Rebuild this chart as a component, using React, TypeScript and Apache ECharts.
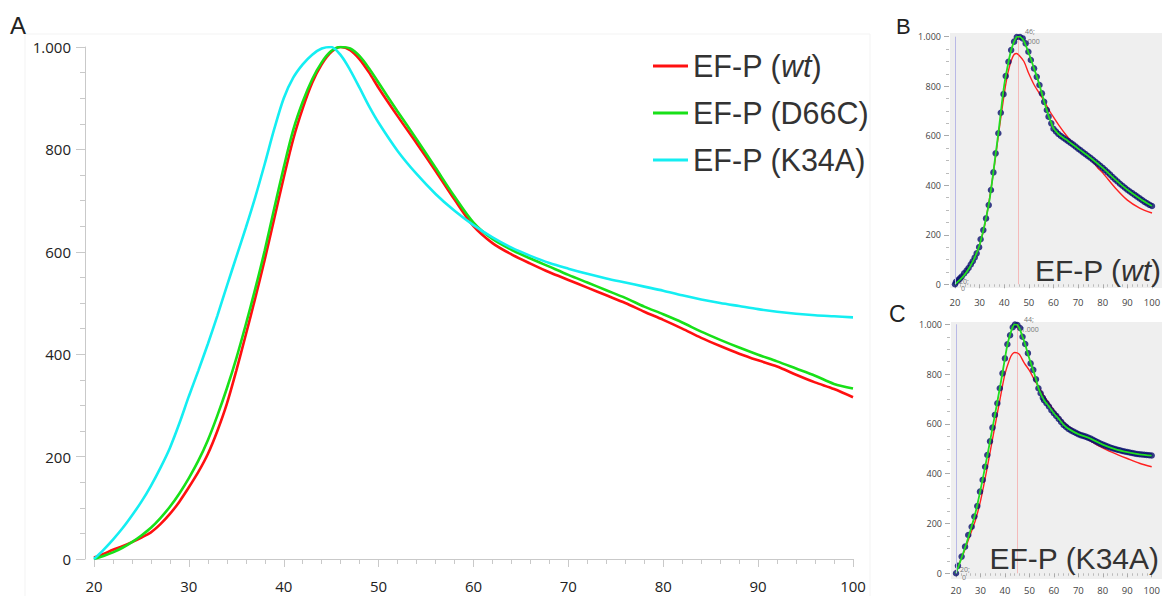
import React, { useEffect, useRef } from 'react';
import * as echarts from 'echarts';

// ---------- Panel A (main) ----------
const mainX = [20, 21, 22, 23, 24, 25, 26, 27, 28, 29, 30, 31, 32, 33, 34, 35, 36, 37, 38, 39, 40, 41, 42, 43, 44, 45, 46, 47, 48, 49, 50,
  52, 54, 56, 58, 60, 62, 64, 66, 68, 70, 72, 74, 76, 78, 80, 82, 84, 86, 88, 90, 92, 94, 96, 98, 100];
const wtY = [3, 10, 18, 25, 33, 42, 52, 68, 88, 112, 140, 170, 205, 250, 303, 368, 438, 510, 585, 665, 745, 820, 880, 930, 966, 990, 1000, 994, 976, 950, 920,
  865, 812, 758, 702, 650, 617, 595, 577, 560, 545, 530, 515, 500, 483, 467, 450, 432, 416, 401, 388, 376, 360, 345, 332, 316];
const d66cY = [0, 6, 13, 22, 33, 46, 61, 80, 102, 128, 158, 192, 232, 280, 333, 392, 458, 528, 603, 685, 765, 838, 893, 937, 970, 992, 1000, 997, 982, 958, 930,
  874, 820, 764, 708, 657, 625, 604, 587, 571, 555, 540, 525, 510, 493, 478, 462, 444, 428, 413, 399, 386, 372, 358, 342, 333];
const k34aY = [0, 18, 38, 60, 85, 112, 143, 178, 217, 265, 318, 368, 420, 475, 533, 590, 647, 707, 772, 840, 900, 940, 966, 985, 997, 1000, 984, 955, 920, 884, 852,
  797, 752, 713, 680, 652, 628, 608, 592, 578, 567, 557, 548, 540, 532, 524, 515, 507, 500, 494, 488, 483, 479, 476, 474, 472];
const seriesNames = ['EF-P (wt)', 'EF-P (D66C)', 'EF-P (K34A)'];

// ---------- Panel B (wt) ----------
const bDotX = [20, 20.4, 21.3, 22.0, 22.7, 23.7, 24.7, 25.5, 26.4, 27.2, 28.0, 28.8, 29.8, 30.4, 31.5, 32.6, 33.7, 34.6, 35.6, 36.5, 37.6, 38.6, 39.7, 40.6,
  41.7, 42.8, 44.0, 45.1, 46.4, 47.5, 48.7, 49.8, 50.8, 52.1, 53.2, 54.3, 55.3, 56.2, 57.3, 58.0, 59.1,
  60, 61, 62, 63, 64, 65, 66, 67, 68, 69, 70, 71, 72, 73, 74, 75, 76, 77, 78, 79, 80, 81, 82, 83, 84, 85, 86, 87, 88, 89, 90,
  91, 92, 93, 94, 95, 96, 97, 98, 99, 100];
const bDotY = [0, 10, 17, 24, 31, 44, 55, 66, 80, 93, 108, 125, 150, 182, 219, 266, 320, 381, 452, 529, 610, 693, 768, 841,
  899, 946, 980, 999, 999, 993, 973, 939, 906, 872, 838, 805, 771, 737, 704, 677, 650,
  628, 617, 607, 599, 592, 585, 578, 571, 564, 556, 548, 541, 533, 526, 518, 511, 503, 495, 487, 479, 470, 461, 452, 443, 433, 424, 415, 406, 398, 390, 382,
  375, 368, 361, 354, 347, 340, 333, 327, 321, 316];
const bFitX = [20, 22, 24, 26, 28, 30, 32, 34, 36, 38, 40, 42, 43, 44, 45, 46, 47, 48, 50, 52, 54, 56, 58, 59, 60, 62, 64, 66, 70, 75, 80, 85, 90, 95, 100];
const bFitY = [0, 18, 40, 70, 108, 160, 240, 340, 486, 643, 805, 912, 952, 980, 998, 1000, 995, 982, 932, 875, 815, 745, 680, 655, 630, 607, 592, 578, 548, 511, 470, 424, 382, 347, 316];
const bRedX = [20, 22, 24, 26, 28, 30, 32, 34, 36, 38, 40, 41, 42, 43, 44, 45, 46, 48, 50, 52, 54, 56, 58, 60, 62, 65, 68, 70, 72, 75, 78, 80, 85, 90, 95, 100];
const bRedY = [0, 22, 45, 72, 108, 160, 235, 345, 480, 630, 770, 830, 875, 908, 928, 932, 925, 900, 850, 808, 775, 744, 707, 675, 645, 604, 568, 548, 530, 506, 470, 450, 390, 340, 308, 288];

// ---------- Panel C (K34A) ----------
const cDotX = [20, 20.8, 22.3, 23.7, 25, 26.4, 27.5, 28.7, 29.8, 30.9, 31.9, 32.8, 33.9, 34.9, 35.9, 36.9, 37.9, 39, 40, 41, 42.1, 43.2, 44.1, 45.1, 46.2,
  47.2, 48.3, 49.4, 50.5, 51.6, 52.7, 53.7, 54.6, 55.5,
  56, 57, 58, 59, 60, 61, 62, 63, 64, 65, 66, 67, 68, 69, 70, 71, 72, 73, 74, 75, 76, 77, 78, 79, 80, 81, 82, 83, 84, 85, 86, 87, 88, 89, 90,
  91, 92, 93, 94, 95, 96, 97, 98, 99, 100];
const cDotY = [0, 30, 67, 107, 154, 187, 228, 270, 328, 375, 428, 475, 530, 585, 636, 683, 743, 803, 863, 920, 956, 988, 999, 997, 985,
  950, 921, 884, 843, 817, 779, 743, 723, 705,
  695, 683, 670, 655, 643, 632, 620, 608, 596, 588, 580, 574, 569, 564, 559, 555, 552, 549, 545, 541, 536, 531, 526, 521, 517, 513, 509, 505, 502, 499, 496, 494, 491, 489, 487,
  485, 483, 481, 479, 478, 477, 476, 475, 474, 473];
const cFitX = [20, 22, 24, 26, 28, 30, 32, 34, 36, 38, 40, 41, 42, 43, 44, 45, 46, 47, 48, 50, 52, 54, 56, 58, 60, 62, 64, 66, 70, 75, 80, 85, 90, 95, 100];
const cFitY = [0, 55, 112, 175, 245, 335, 432, 535, 641, 749, 862, 918, 955, 985, 1000, 998, 983, 955, 928, 862, 802, 736, 695, 670, 643, 620, 596, 580, 559, 541, 517, 499, 487, 478, 473];
const cRedX = [20, 22, 24, 26, 28, 30, 32, 34, 36, 38, 40, 42, 43, 44, 45, 46, 48, 50, 52, 54, 56, 58, 60, 62, 64, 66, 68, 70, 74, 78, 82, 86, 90, 95, 100];
const cRedY = [10, 55, 105, 160, 215, 290, 385, 490, 595, 700, 800, 862, 880, 887, 885, 878, 843, 815, 778, 745, 712, 683, 655, 630, 608, 590, 576, 564, 538, 514, 494, 477, 461, 442, 428];

const pairs = (xs: number[], ys: number[]) => xs.map((x, i) => [x, ys[i]]);
const fmtY = (v: number) => (v === 1000 ? '1.000' : String(v));

export default function App() {
  const ref = useRef<HTMLDivElement>(null);
  useEffect(() => {
    if (!ref.current) return;
    const chart = echarts.init(ref.current, undefined, { renderer: 'svg' });
    const axisGray = '#c9c9c9';
    const lblFont = 'Open Sans';
    const bigFont = 'Liberation Sans';
    const txtColor = '#333';

    const mainXAxis = {
      gridIndex: 0, type: 'value', min: 20, max: 100, interval: 10, offset: 7,
      axisLine: { show: true, lineStyle: { color: axisGray, width: 1 } },
      axisTick: { show: true, length: 8, lineStyle: { color: axisGray } },
      minorTick: { show: true, splitNumber: 5, length: 5, lineStyle: { color: axisGray } },
      splitLine: { show: false },
      axisLabel: { margin: 12, fontSize: 15, color: '#222', fontFamily: lblFont },
    };
    const mainYAxis = {
      gridIndex: 0, type: 'value', min: 0, max: 1000, interval: 200, offset: 9,
      axisLine: { show: true, lineStyle: { color: axisGray, width: 1 } },
      axisTick: { show: true, length: 9, lineStyle: { color: axisGray } },
      minorTick: { show: true, splitNumber: 4, length: 5, lineStyle: { color: axisGray } },
      splitLine: { show: false },
      axisLabel: { margin: 14, fontSize: 15, color: '#222', fontFamily: lblFont, formatter: fmtY },
    };
    const smallX = (gi: number, offset: number, margin: number) => ({
      gridIndex: gi, type: 'value', min: 20, max: 100, interval: 10, offset,
      axisLine: { show: false },
      axisTick: { show: true, length: 4, lineStyle: { color: '#aaa' } },
      minorTick: { show: true, splitNumber: 5, length: 2.5, lineStyle: { color: '#bbb' } },
      splitLine: { show: false },
      axisLabel: { margin, fontSize: 9.5, color: '#444', fontFamily: lblFont },
    });
    const smallY = (gi: number) => ({
      gridIndex: gi, type: 'value', min: 0, max: 1000, interval: 200, offset: 6,
      axisLine: { show: false },
      axisTick: { show: true, length: 5, lineStyle: { color: '#aaa' } },
      minorTick: { show: true, splitNumber: 4, length: 3, lineStyle: { color: '#bbb' } },
      splitLine: { show: false },
      axisLabel: { margin: 8, fontSize: 9, color: '#444', fontFamily: lblFont, formatter: fmtY },
    });

    const mainColors = ['#ff1010', '#18e018', '#14eef2'];
    const mainYs = [wtY, d66cY, k34aY];
    const mainSeries = seriesNames.map((name, i) => ({
      name, type: 'line', xAxisIndex: 0, yAxisIndex: 0,
      data: pairs(mainX, mainYs[i]), showSymbol: false, symbol: 'none', smooth: 0.3,
      color: mainColors[i], lineStyle: { color: mainColors[i], width: 2.6 }, z: 3,
    }));

    const vLines = (peakX: number) => ({
      silent: true, symbol: 'none', label: { show: false }, animation: false,
      data: [
        { xAxis: peakX, lineStyle: { color: 'rgba(255,90,90,0.35)', width: 1, type: 'solid' } },
        { xAxis: 20, lineStyle: { color: '#b9b9e6', width: 1, type: 'solid' } },
      ],
    });

    const panelSeries = (xi: number, dotX: number[], dotY: number[], fitX: number[], fitY: number[], redX: number[], redY: number[], peakX: number, key: string) => [
      {
        name: key + ' model', type: 'line', xAxisIndex: xi, yAxisIndex: xi, data: pairs(redX, redY),
        symbol: 'none', smooth: 0.3, color: '#ff2020', lineStyle: { color: '#ff2020', width: 1.4 }, z: 2,
        markLine: vLines(peakX),
      },
      {
        name: key + ' data', type: 'scatter', xAxisIndex: xi, yAxisIndex: xi, data: pairs(dotX, dotY),
        symbol: 'circle', symbolSize: 6.5, color: '#0a106e', itemStyle: { color: '#0a106e' }, z: 3,
      },
      {
        name: key + ' fit', type: 'line', xAxisIndex: xi, yAxisIndex: xi, data: pairs(fitX, fitY),
        symbol: 'none', smooth: 0.3, color: '#22dd22', lineStyle: { color: '#22dd22', width: 1.8 }, z: 4,
      },
    ];

    const tiny = (x: number, y: number, text: string) => ({
      type: 'text', x, y, z: 1,
      style: { text, fontSize: 7, fontFamily: lblFont, fill: '#777', align: 'left', verticalAlign: 'middle' },
    });

    const option = {
      animation: false,
      backgroundColor: '#ffffff',
      grid: [
        { left: 94, top: 47, width: 759, height: 512 },
        { left: 955, top: 36.7, width: 197, height: 247.6 },
        { left: 956, top: 324.3, width: 195.7, height: 249 },
      ],
      xAxis: [mainXAxis, smallX(1, 4, 9), smallX(2, 5, 7)],
      yAxis: [mainYAxis, smallY(1), smallY(2)],
      legend: {
        data: seriesNames, orient: 'vertical', left: 648, top: 43,
        itemWidth: 35, itemHeight: 3, icon: 'rect', itemGap: 11,
        selectedMode: false,
        formatter: (name: string) => (name === 'EF-P (wt)' ? 'EF-P ({i|wt})' : name),
        textStyle: {
          fontFamily: bigFont, fontSize: 30.5, color: txtColor, lineHeight: 36,
          rich: { i: { fontFamily: bigFont, fontSize: 30.5, fontStyle: 'italic', color: txtColor, lineHeight: 36 } },
        },
      },
      graphic: [
        { type: 'rect', z: -1, shape: { x: 25, y: 34, width: 845, height: 570 }, style: { fill: 'none', stroke: '#f3f3f3', lineWidth: 1 } },
        { type: 'rect', z: -1, shape: { x: 950, y: 33, width: 212, height: 255 }, style: { fill: '#efefef' } },
        { type: 'rect', z: -1, shape: { x: 951, y: 322, width: 211, height: 257 }, style: { fill: '#efefef' } },
        { type: 'text', x: 10, y: 25, z: 10, style: { text: 'A', fontSize: 24, fontFamily: bigFont, fill: '#222', align: 'left', verticalAlign: 'middle' } },
        { type: 'text', x: 896, y: 26, z: 10, style: { text: 'B', fontSize: 22, fontFamily: bigFont, fill: '#222', align: 'left', verticalAlign: 'middle' } },
        { type: 'text', x: 889, y: 314, z: 10, style: { text: 'C', fontSize: 23, fontFamily: bigFont, fill: '#222', align: 'left', verticalAlign: 'middle' } },
        {
          type: 'text', x: 1161, y: 270, z: 10,
          style: {
            text: 'EF-P ({i|wt})', fontSize: 30, fontFamily: bigFont, fill: txtColor, align: 'right', verticalAlign: 'middle',
            rich: { i: { fontSize: 30, fontFamily: bigFont, fontStyle: 'italic', fill: txtColor } },
          },
        },
        { type: 'text', x: 1159, y: 558, z: 10, style: { text: 'EF-P (K34A)', fontSize: 30, fontFamily: bigFont, fill: txtColor, align: 'right', verticalAlign: 'middle' } },
        tiny(1025, 31, '46;'), tiny(1022, 41, '1.000'),
        tiny(1024, 319, '44;'), tiny(1021, 329, '1.000'),
        tiny(959, 281, '20;'), tiny(961, 288, '0'),
        tiny(960, 569, '20;'), tiny(962, 577, '0'),
      ],
      series: [
        ...mainSeries,
        ...panelSeries(1, bDotX, bDotY, bFitX, bFitY, bRedX, bRedY, 45.6, 'B'),
        ...panelSeries(2, cDotX, cDotY, cFitX, cFitY, cRedX, cRedY, 45.2, 'C'),
      ],
    };
    chart.setOption(option as any);
    return () => chart.dispose();
  }, []);
  return <div ref={ref} style={{ position: 'absolute', left: 0, top: 0, width: 1165, height: 596, background: '#fff' }} />;
}
